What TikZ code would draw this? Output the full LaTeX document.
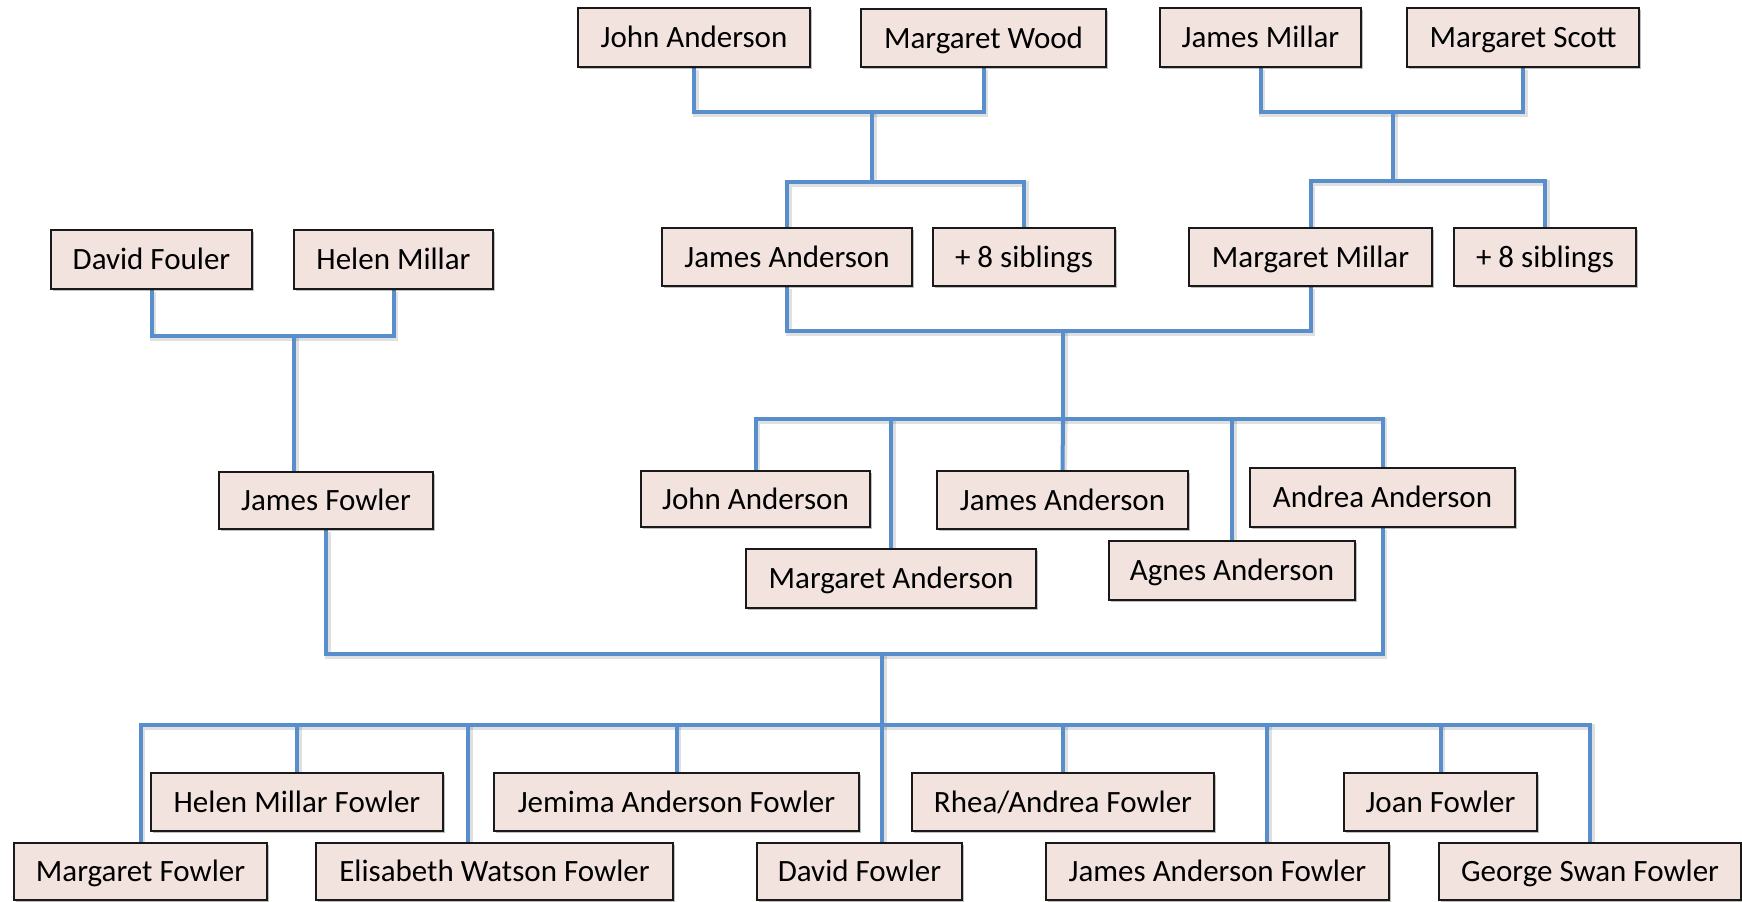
\documentclass[tikz,border=0pt]{standalone}
\usepackage{fontspec}
\setmainfont{Carlito}
\usetikzlibrary{calc,backgrounds,shadows}
\definecolor{boxfill}{RGB}{242,227,223}
\definecolor{linecol}{RGB}{88,142,204}
\tikzset{
  famperson/.style={draw=black!90, line width=1pt, fill=boxfill, inner sep=0pt,
    font=\fontsize{15.5}{18}\selectfont, text height=10pt, text depth=0pt,
    drop shadow={shadow xshift=0.8pt, shadow yshift=-0.8pt, opacity=0.25, fill=black}},
  conn/.style={draw=linecol, line width=2pt, line join=miter,
    preaction={draw=black, opacity=0.12, line width=3pt, transform canvas={shift={(0.8pt,-1pt)}}}}
}
\newcommand\famnode[6]{\node[famperson, minimum width={(#4-#2)*0.5pt}, minimum height={(#5-#3)*0.5pt}] (#1) at ({(#2+#4)/2},{(#3+#5)/2}) {#6};}
\begin{document}
\begin{tikzpicture}[x=0.5pt, y=-0.5pt]
\useasboundingbox (0,0) rectangle (1742,901);
% generation 1
\famnode{jaa}{578}{8}{810}{67}{John Anderson}
\famnode{mwo}{861}{9}{1106}{67}{Margaret Wood}
\famnode{jmi}{1160}{8}{1361}{67}{James Millar}
\famnode{msc}{1407}{8}{1639}{67}{Margaret Scott}
% generation 2
\famnode{dfo}{51}{230}{252}{289}{David Fouler}
\famnode{hmi}{294}{230}{493}{289}{Helen Millar}
\famnode{jan}{662}{228}{912}{286}{James Anderson}
\famnode{sia}{933}{228}{1115}{286}{+ 8 siblings}
\famnode{mmi}{1189}{228}{1432}{286}{Margaret Millar}
\famnode{sib}{1454}{228}{1636}{286}{+ 8 siblings}
% generation 3
\famnode{jfo}{219}{472}{433}{529}{James Fowler}
\famnode{jab}{641}{471}{870}{527}{John Anderson}
\famnode{jac}{937}{471}{1188}{529}{James Anderson}
\famnode{aan}{1250}{468}{1515}{527}{Andrea Anderson}
\famnode{man}{746}{549}{1036}{608}{Margaret Anderson}
\famnode{agn}{1109}{541}{1355}{600}{Agnes Anderson}
% generation 4
\famnode{hmf}{151}{773}{443}{831}{Helen Millar Fowler}
\famnode{jef}{494}{773}{859}{831}{Jemima Anderson Fowler}
\famnode{raf}{912}{773}{1214}{831}{Rhea/Andrea Fowler}
\famnode{jof}{1344}{773}{1537}{831}{Joan Fowler}
\famnode{mfo}{14}{843}{267}{900}{Margaret Fowler}
\famnode{ewf}{316}{843}{673}{900}{Elisabeth Watson Fowler}
\famnode{dfw}{757}{843}{962}{900}{David Fowler}
\famnode{jaf}{1046}{843}{1389}{900}{James Anderson Fowler}
\famnode{gsf}{1439}{843}{1741}{900}{George Swan Fowler}
% junctions
\coordinate (p1) at (872,112);
\coordinate (q1) at (872,182);
\coordinate (p2) at (1393,112);
\coordinate (q2) at (1393,181);
\coordinate (p3) at (294,336);
\coordinate (p4) at (1063,331);
\coordinate (q4) at (1063,419);
\coordinate (p5) at (882,654);
\coordinate (q5) at (882,725);
\coordinate (bew) at (468,725);
\coordinate (bja) at (1267,725);
\begin{scope}[on background layer]
\draw[conn] (jaa.south) |- (p1) -| (mwo.south);
\draw[conn] (p1) -- (q1);
\draw[conn] (jan.north) |- (q1) -| (sia.north);
\draw[conn] (jmi.south) |- (p2) -| (msc.south);
\draw[conn] (p2) -- (q2);
\draw[conn] (mmi.north) |- (q2) -| (sib.north);
\draw[conn] (dfo.south) |- (p3) -| (hmi.south);
\draw[conn] (p3) -- (p3 |- jfo.north);
\draw[conn] (jan.south) |- (p4) -| (mmi.south);
\draw[conn] (p4) -- (q4);
\draw[conn] (jab.north) |- (q4) -| (aan.north);
\draw[conn] (q4 -| man.north) -- (man.north);
\draw[conn] (q4) -- (jac.north);
\draw[conn] (q4 -| agn.north) -- (agn.north);
\draw[conn] (jfo.south) |- (p5) -| (aan.south);
\draw[conn] (p5) -- (q5);
\draw[conn] (mfo.north) |- (q5) -| (gsf.north);
\draw[conn] (q5 -| hmf.north) -- (hmf.north);
\draw[conn] (bew) -- (bew |- ewf.north);
\draw[conn] (q5 -| jef.north) -- (jef.north);
\draw[conn] (q5) -- (q5 |- dfw.north);
\draw[conn] (q5 -| raf.north) -- (raf.north);
\draw[conn] (bja) -- (bja |- jaf.north);
\draw[conn] (q5 -| jof.north) -- (jof.north);
\end{scope}
\end{tikzpicture}
\end{document}
